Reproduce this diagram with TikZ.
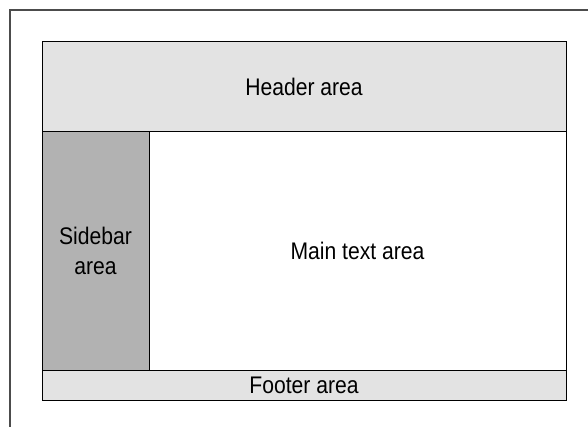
\documentclass[tikz,border=0pt]{standalone}
\usepackage{fontspec}
\setmainfont[FakeStretch=0.88]{Liberation Sans}
\usetikzlibrary{positioning}

\begin{document}
\begin{tikzpicture}[x=1pt, y=-1pt,
  area/.style={draw=black, line width=1pt, inner sep=0pt, outer sep=0pt,
    align=center, font=\fontsize{24}{30}\selectfont},
  frameline/.style={draw=black!70, line width=1.5pt}]
  \useasboundingbox (0,0) rectangle (588,427);
  % page frame, open at right and bottom
  \draw[frameline] (10,427) -- (10,10) -- (588,10);
  \node[area, fill=black!11, minimum width=524pt, minimum height=90pt] (header) at (304,87) {Header area};
  \node[area, fill=black!30, minimum width=107pt, minimum height=238pt,
    below=0pt of header.south west, anchor=north west] (sidebar) {Sidebar\\area};
  \node[area, fill=white, minimum width=417pt, minimum height=238pt,
    right=0pt of sidebar] (main) {Main text area};
  \node[area, fill=black!11, minimum width=524pt, minimum height=30pt,
    below=0pt of sidebar.south west, anchor=north west] (footer) {Footer area};
\end{tikzpicture}
\end{document}
